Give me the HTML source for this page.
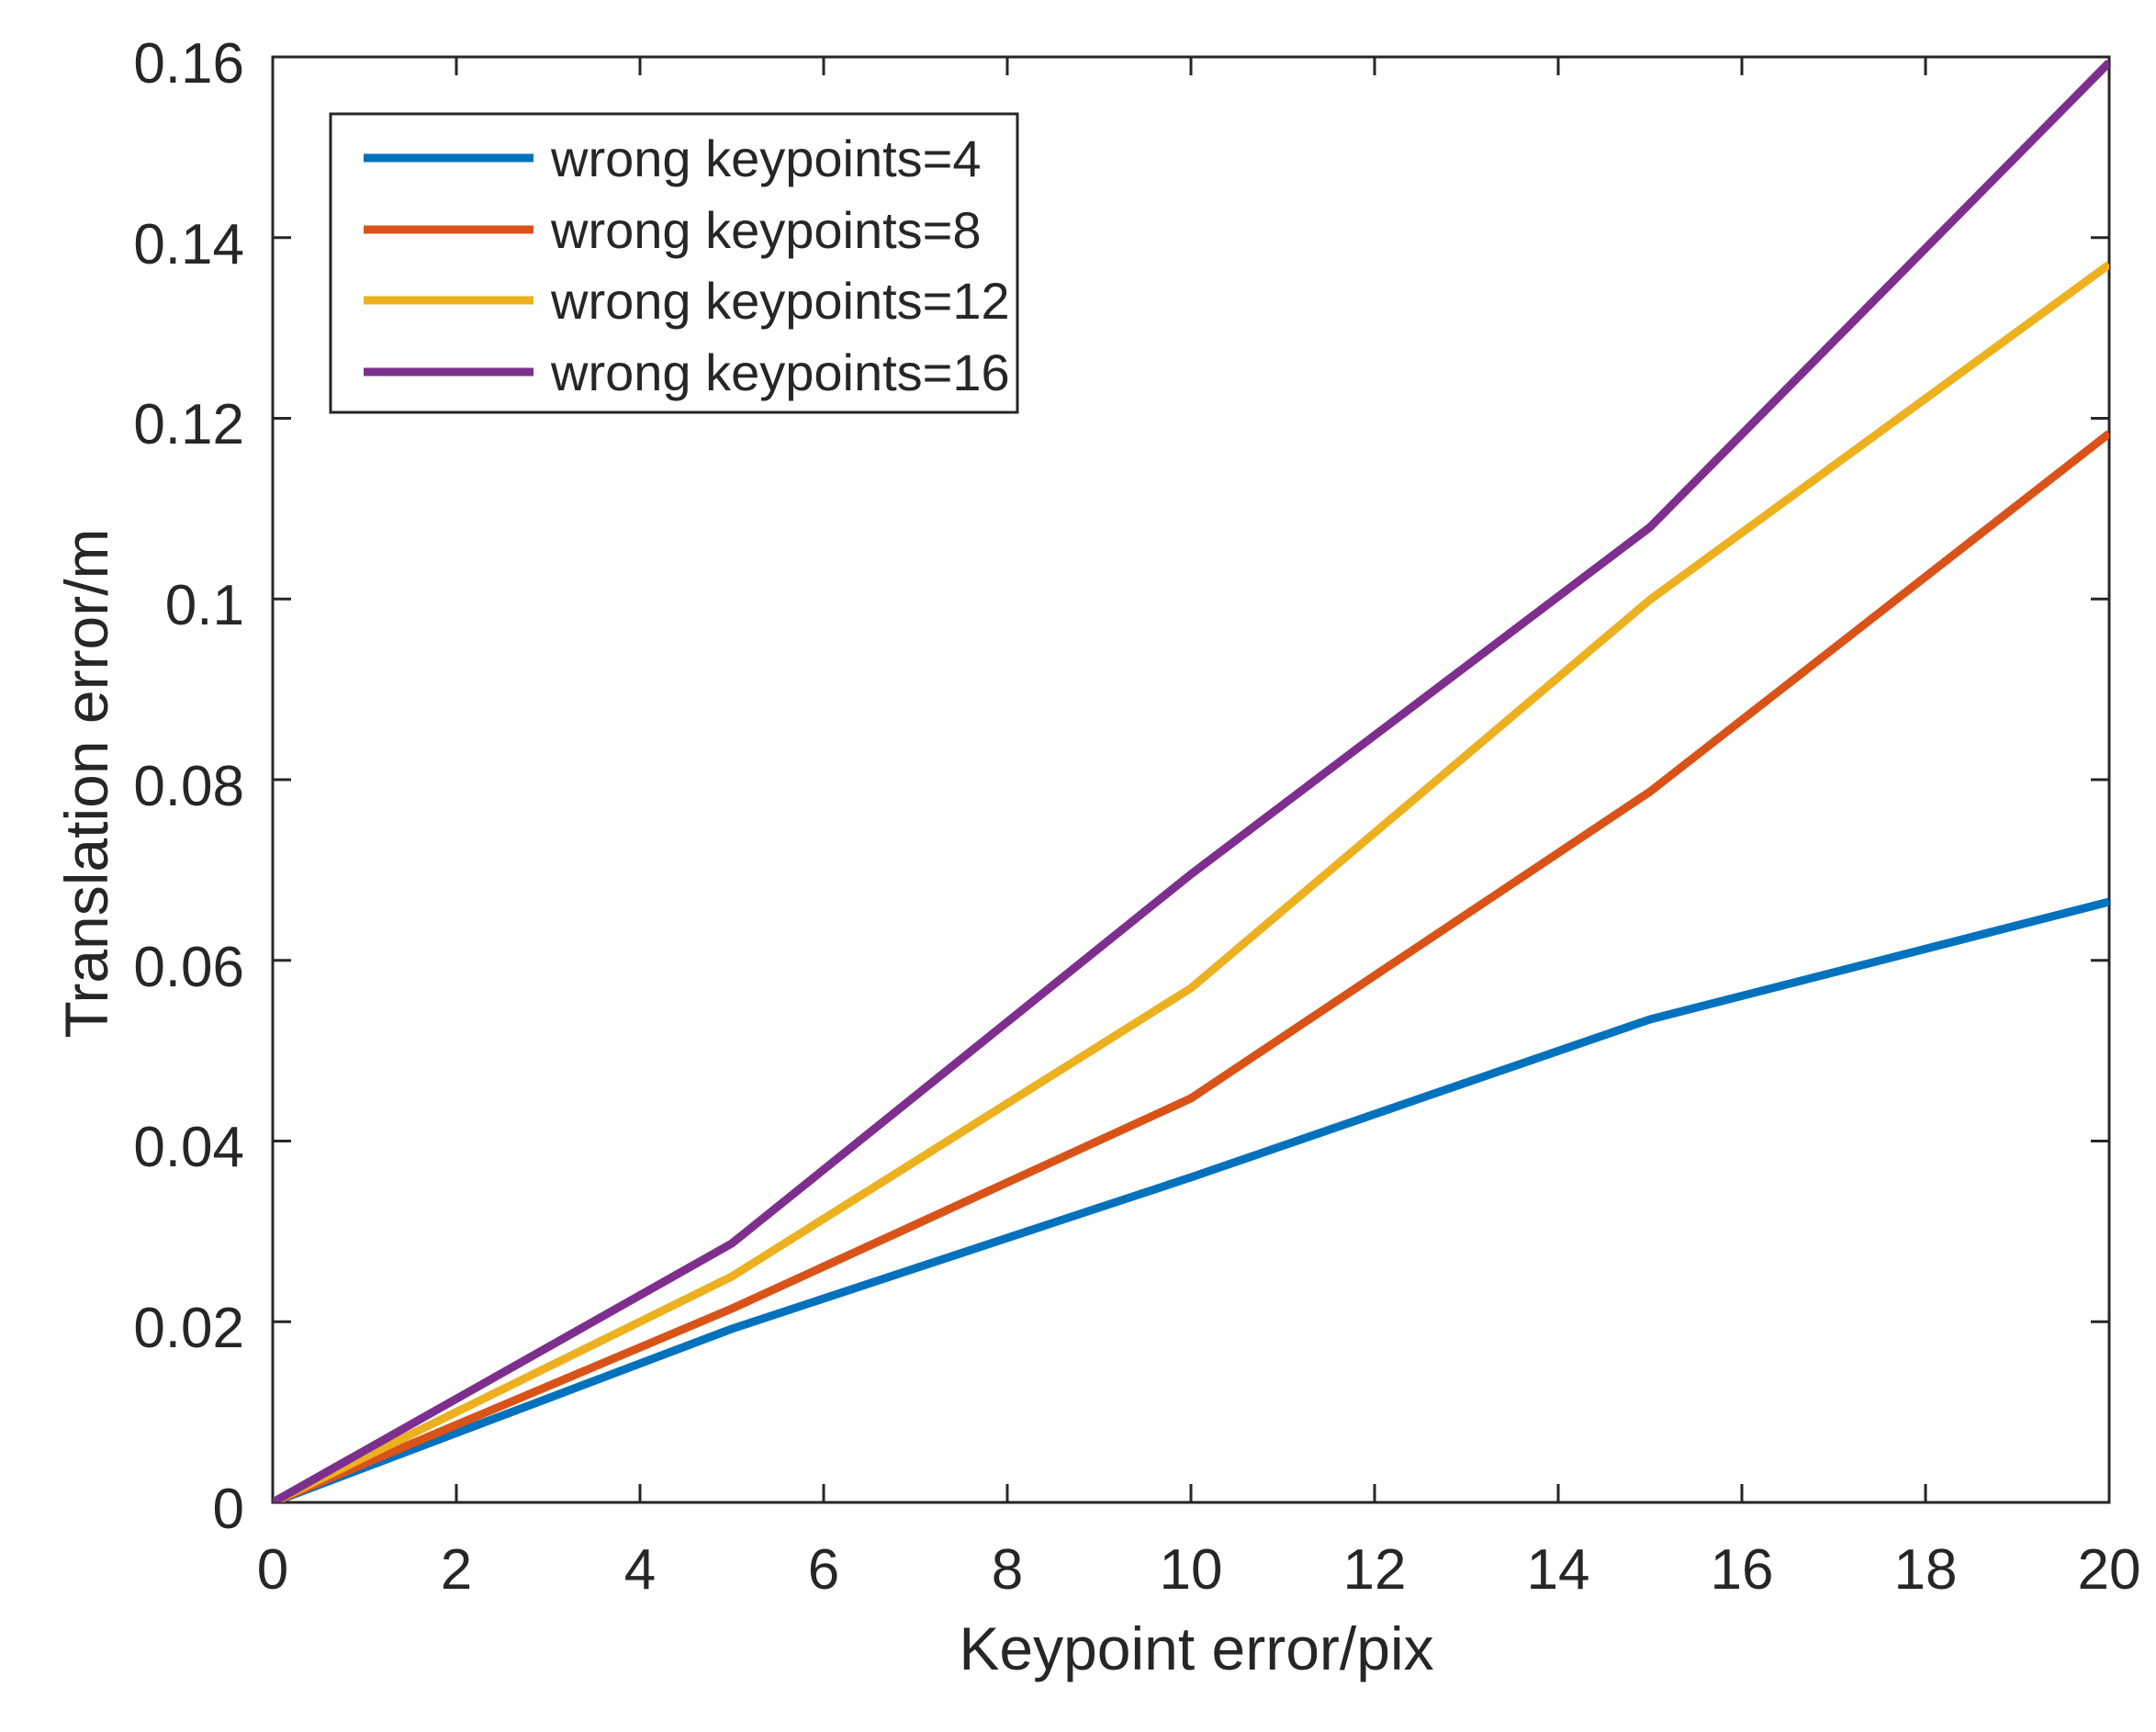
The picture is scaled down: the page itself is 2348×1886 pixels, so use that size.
<!DOCTYPE html>
<html><head><style>html,body{margin:0;padding:0;background:#fff}</style></head>
<body>
<svg width="2348" height="1881" viewBox="0 0 2348 1881" xmlns="http://www.w3.org/2000/svg" font-family="Liberation Sans, Arial, sans-serif" fill="#262626">
<defs><clipPath id="c"><rect x="297" y="62" width="2000" height="1574"/></clipPath></defs>
<g stroke="#262626" stroke-width="3">
<rect x="297" y="62" width="2000" height="1574" fill="none"/>
<path d="M497,1636v-20M697,1636v-20M897,1636v-20M1097,1636v-20M1297,1636v-20M1497,1636v-20M1697,1636v-20M1897,1636v-20M2097,1636v-20
M497,62v20M697,62v20M897,62v20M1097,62v20M1297,62v20M1497,62v20M1697,62v20M1897,62v20M2097,62v20
M297,1439.25h20M297,1242.5h20M297,1045.75h20M297,849h20M297,652.25h20M297,455.5h20M297,258.75h20
M2297,1439.25h-20M2297,1242.5h-20M2297,1045.75h-20M2297,849h-20M2297,652.25h-20M2297,455.5h-20M2297,258.75h-20"/>
</g>
<g font-size="62" text-anchor="middle">
<text x="297" y="1730">0</text><text x="497" y="1730">2</text><text x="697" y="1730">4</text><text x="897" y="1730">6</text><text x="1097" y="1730">8</text><text x="1297" y="1730">10</text><text x="1497" y="1730">12</text><text x="1697" y="1730">14</text><text x="1897" y="1730">16</text><text x="2097" y="1730">18</text><text x="2297" y="1730">20</text>
</g>
<g font-size="62" text-anchor="end">
<text x="266" y="1664">0</text><text x="266" y="1467">0.02</text><text x="266" y="1270">0.04</text><text x="266" y="1074">0.06</text><text x="266" y="877">0.08</text><text x="266" y="680">0.1</text><text x="266" y="483">0.12</text><text x="266" y="287">0.14</text><text x="266" y="90">0.16</text>
</g>
<text x="1303" y="1818" font-size="66" text-anchor="middle">Keypoint error/pix</text>
<text transform="translate(94,853) rotate(-90)" font-size="66" text-anchor="middle" dominant-baseline="central">Translation error/m</text>
<g clip-path="url(#c)" fill="none" stroke-width="9" stroke-linejoin="round">
<polyline stroke="#0072BD" points="297,1636 797,1447 1297,1282 1797,1110 2297,982"/>
<polyline stroke="#D95319" points="297,1636 797,1425 1297,1196 1797,862 2297,472"/>
<polyline stroke="#EDB120" points="297,1636 797,1390 1297,1076 1797,653 2297,288"/>
<polyline stroke="#7E2F8E" points="297,1636 797,1354 1297,952 1797,574 2297,68"/>
</g>
<rect x="360" y="124" width="748" height="325" fill="#fff" stroke="#262626" stroke-width="3"/>
<g stroke-width="9">
<line x1="396" x2="581" y1="172" y2="172" stroke="#0072BD"/>
<line x1="396" x2="581" y1="250" y2="250" stroke="#D95319"/>
<line x1="396" x2="581" y1="327" y2="327" stroke="#EDB120"/>
<line x1="396" x2="581" y1="405" y2="405" stroke="#7E2F8E"/>
</g>
<g font-size="56">
<text x="600" y="192">wrong keypoints=4</text>
<text x="600" y="270">wrong keypoints=8</text>
<text x="600" y="347">wrong keypoints=12</text>
<text x="600" y="425">wrong keypoints=16</text>
</g>
</svg>
</body></html>
